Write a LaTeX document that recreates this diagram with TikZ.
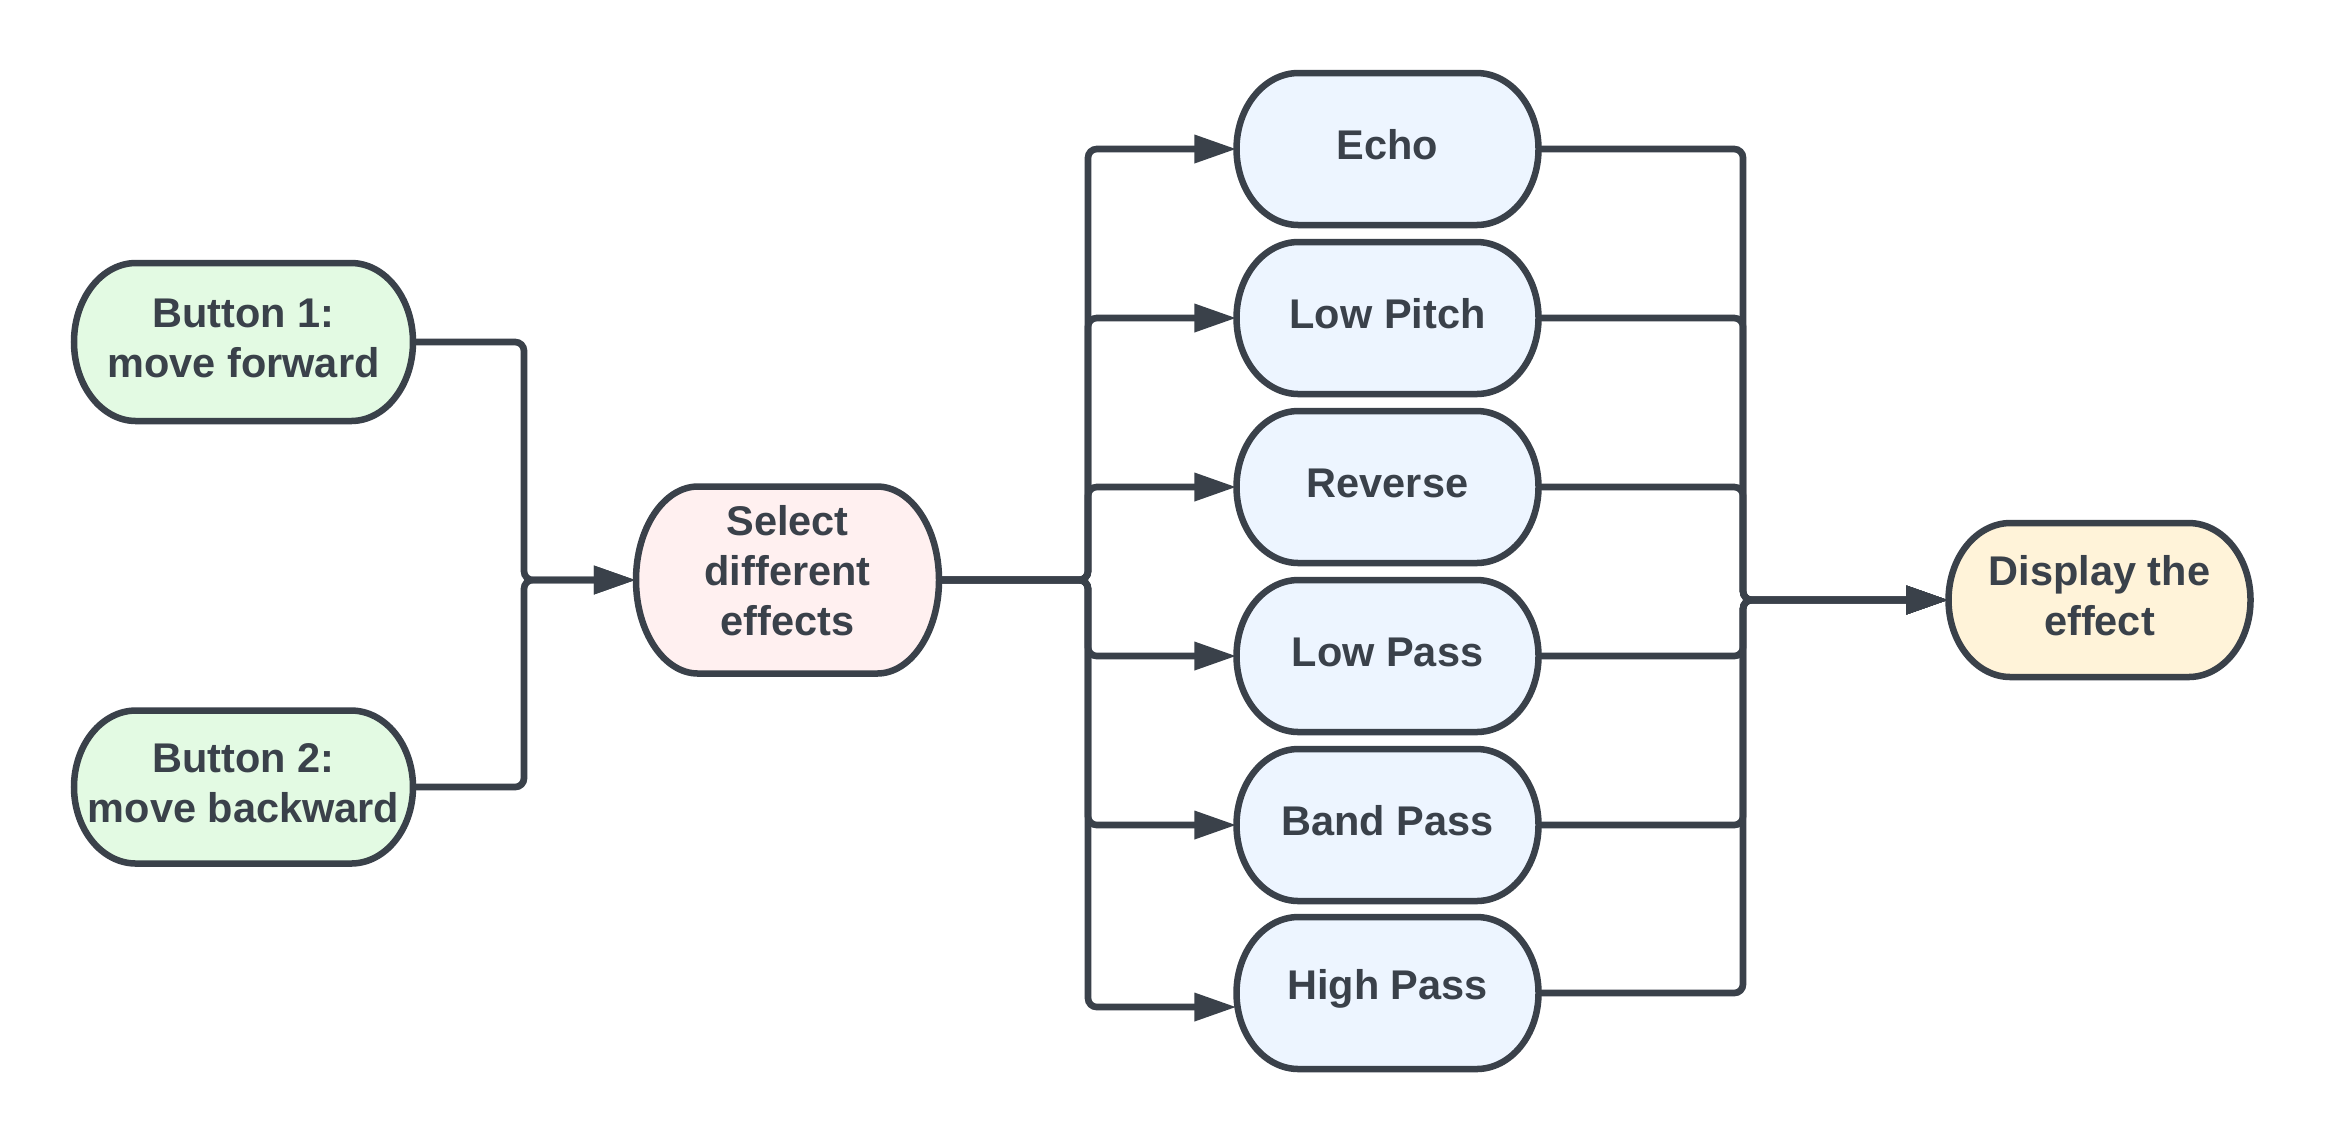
\documentclass[tikz,border=0pt]{standalone}
\usepackage{fontspec}
\setmainfont{Liberation Sans}
\usetikzlibrary{arrows.meta}
\definecolor{ln}{HTML}{3A414A}
\definecolor{gfill}{HTML}{E3FAE3}
\definecolor{rfill}{HTML}{FFF0F0}
\definecolor{bfill}{HTML}{EDF5FF}
\definecolor{yfill}{HTML}{FFF3D9}
\tikzset{
  boxline/.style={draw=ln, line width=1.85pt},
  anchorbox/.style={draw=none, inner sep=0pt, outer sep=0pt},
  boxtext/.style={draw=none, inner sep=0pt, outer sep=0pt, align=center, text=ln,
    font=\bfseries\fontsize{11.8}{14.2}\selectfont},
  conn/.style={draw=ln, line width=1.9pt, rounded corners=2.5pt,
    -{Triangle[length=0.42cm, width=0.27cm]}},
}
% #1 name, #2 cx, #3 cy, #4 w, #5 h, #6 fill, #7 text, #8 text lift (px)
\newcommand\capsule[8]{%
  \pgfmathsetmacro\xl{#2-#4/2}\pgfmathsetmacro\xr{#2+#4/2}%
  \pgfmathsetmacro\yt{#3-#5/2}\pgfmathsetmacro\yb{#3+#5/2}%
  \pgfmathsetmacro\xa{\xl+62}\pgfmathsetmacro\xb{\xr-62}%
  \pgfmathsetmacro\ky{#5/2*0.5523}%
  \pgfmathsetmacro\wcm{#4/100}\pgfmathsetmacro\hcm{#5/100}%
  \pgfmathsetmacro\ty{#3-#8}%
  \draw[boxline, fill=#6] (\xa,\yt) -- (\xb,\yt)
    .. controls (\xb+34.2,\yt) and (\xr,#3-\ky) .. (\xr,#3)
    .. controls (\xr,#3+\ky) and (\xb+34.2,\yb) .. (\xb,\yb)
    -- (\xa,\yb)
    .. controls (\xa-34.2,\yb) and (\xl,#3+\ky) .. (\xl,#3)
    .. controls (\xl,#3-\ky) and (\xa-34.2,\yt) .. (\xa,\yt) -- cycle;
  \node[anchorbox, minimum width=\wcm cm, minimum height=\hcm cm] (#1) at (#2,#3) {};
  \node[boxtext] (#1-t) at (#2,\ty) {#7};
}
\begin{document}
\begin{tikzpicture}[x=0.01cm, y=-0.01cm]
\useasboundingbox[fill=white] (0,0) rectangle (2325,1144);

\capsule{b1}{243.5}{342}{339}{158}{gfill}{Button 1:\\move forward}{4}
\capsule{b2}{243.5}{787}{339}{153}{gfill}{Button 2:\\move backward}{4}
\capsule{sel}{787.5}{580}{303}{187}{rfill}{Select\\different\\effects}{9}
\capsule{echo}{1387.5}{149}{302}{152}{bfill}{Echo}{4}
\capsule{lpitch}{1387.5}{318}{302}{152}{bfill}{Low Pitch}{4}
\capsule{rev}{1387.5}{487}{302}{152}{bfill}{Reverse}{4}
\capsule{lpass}{1387.5}{656}{302}{152}{bfill}{Low Pass}{4}
\capsule{bpass}{1387.5}{825}{302}{152}{bfill}{Band Pass}{4}
\capsule{hpass}{1387.5}{993}{302}{152}{bfill}{High Pass}{4}
\capsule{disp}{2099.5}{600}{302}{154}{yfill}{Display the\\effect}{4}

\coordinate (jl) at (524,580);
\coordinate (jr) at (1088,580);
\coordinate (jd) at (1743,600);

\draw[conn] (b1.east) -| (jl) -- (sel.west);
\draw[conn] (b2.east) -| (jl) -- (sel.west);

\draw[conn] (sel.east) -- (jr) |- (echo.west);
\draw[conn] (sel.east) -- (jr) |- (lpitch.west);
\draw[conn] (sel.east) -- (jr) |- (rev.west);
\draw[conn] (sel.east) -- (jr) |- (lpass.west);
\draw[conn] (sel.east) -- (jr) |- (bpass.west);
\draw[conn] (sel.east) -- (jr) |- ([yshift=-0.14cm]hpass.west);

\draw[conn] (echo.east) -| (jd) -- (disp.west);
\draw[conn] (lpitch.east) -| (jd) -- (disp.west);
\draw[conn] (rev.east) -| (jd) -- (disp.west);
\draw[conn] (lpass.east) -| (jd) -- (disp.west);
\draw[conn] (bpass.east) -| (jd) -- (disp.west);
\draw[conn] (hpass.east) -| (jd) -- (disp.west);
\end{tikzpicture}
\end{document}
